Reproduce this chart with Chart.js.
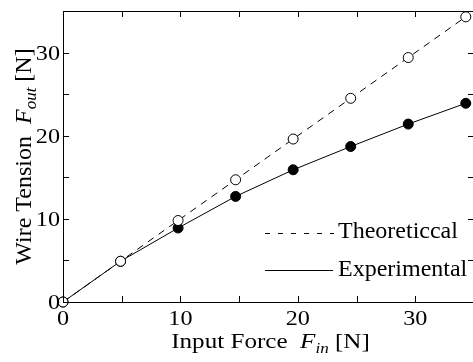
<!DOCTYPE html>
<html lang="en">
<head>
<meta charset="UTF-8">
<script src="https://cdn.jsdelivr.net/npm/chart.js"></script>
<title>Wire Tension</title>
<style>
  body { margin: 0; overflow: hidden; background: #fff; }
</style>
</head>
<body>
<div style="width: 480px; height: 362px;">
  <canvas id="grafico"></canvas>
</div>
<script>
  // values
  const forceIn = [0, 4.9, 9.8, 14.7, 19.6, 24.5, 29.4, 34.3]
  const theoretical = [0, 4.9, 9.8, 14.7, 19.6, 24.5, 29.4, 34.3]
  const experimental = [0, 4.9, 8.9, 12.7, 15.9, 18.7, 21.4, 23.9]
  const majorTicks = [0, 10, 20, 30]
  const minorTicks = [5, 15, 25]
  const legendLabels = ['Theoreticcal', 'Experimental']

  const serif = "'Liberation Serif', 'Times New Roman', serif"
  const pts = ys => forceIn.map((x, i) => ({ x: x, y: ys[i] }))

  // text in pieces: [text, italic, subscript]; sx stretches along the text
  const drawParts = (c, parts, x, base, align, size, sx) => {
    const fonts = parts.map(p => (p[1] ? 'italic ' : '') + Math.round(p[2] ? size * 0.7 : size) + 'px ' + serif)
    let w = 0
    parts.forEach((p, i) => { c.font = fonts[i]; w += c.measureText(p[0]).width })
    c.save()
    c.translate(x, base)
    c.scale(sx, 1)
    let px = align === 'center' ? -w / 2 : align === 'right' ? -w : 0
    parts.forEach((p, i) => {
      c.font = fonts[i]
      c.fillText(p[0], px, p[2] ? size * 0.22 : 0)
      px += c.measureText(p[0]).width
    })
    c.restore()
  }

  // frame with inward ticks on all four sides, tick labels, axis titles and legend
  const frame = {
    id: 'frame',
    afterDraw(chart) {
      const c = chart.ctx, a = chart.chartArea
      const sx = chart.scales.x, sy = chart.scales.y
      c.save()
      c.strokeStyle = '#000'
      c.fillStyle = '#000'
      c.lineWidth = 1
      c.textBaseline = 'alphabetic'
      c.strokeRect(a.left + 0.5, a.top + 0.5, a.right - a.left, a.bottom - a.top)
      c.beginPath()
      majorTicks.concat(minorTicks).forEach(v => {
        const px = Math.round(sx.getPixelForValue(v)) + 0.5
        c.moveTo(px, a.bottom); c.lineTo(px, a.bottom - 6)
        c.moveTo(px, a.top); c.lineTo(px, a.top + 6)
        const py = Math.round(sy.getPixelForValue(v)) + 0.5
        c.moveTo(a.left, py); c.lineTo(a.left + 6, py)
        c.moveTo(a.right, py); c.lineTo(a.right - 6, py)
      })
      c.stroke()

      majorTicks.forEach(v => {
        drawParts(c, [[String(v)]], sx.getPixelForValue(v), a.bottom + 23, 'center', 22, 1.1)
        drawParts(c, [[String(v)]], a.left - 3, sy.getPixelForValue(v) + 7, 'right', 22, 1.1)
      })

      drawParts(c, [['Input Force  '], ['F', true], ['in', true, true], [' [N]']],
        (a.left + a.right) / 2 + 2, 348, 'center', 22, 1.14)
      c.save()
      c.translate(31, (a.top + a.bottom) / 2)
      c.rotate(-Math.PI / 2)
      drawParts(c, [['Wire Tension  '], ['F', true], ['out', true, true], [' [N]']], 0, 0, 'center', 24, 1)
      c.restore()

      // legend
      c.beginPath()
      c.setLineDash([5, 8])
      c.moveTo(265, 233.5); c.lineTo(334, 233.5)
      c.stroke()
      c.setLineDash([])
      c.beginPath()
      c.moveTo(265, 270.5); c.lineTo(333, 270.5)
      c.stroke()
      drawParts(c, [[legendLabels[0]]], 338, 238, 'left', 24, 1)
      drawParts(c, [[legendLabels[1]]], 338, 276, 'left', 24, 1)
      c.restore()
    }
  }

  const grafico = new Chart(document.getElementById('grafico'), {
    type: 'scatter',
    data: {
      datasets: [{
        label: legendLabels[0],
        data: pts(theoretical),
        showLine: true,
        borderColor: '#000',
        borderWidth: 1,
        borderDash: [7, 6],
        pointRadius: 5,
        pointBackgroundColor: '#fff',
        pointBorderColor: '#000',
        pointBorderWidth: 1
      }, {
        label: legendLabels[1],
        data: pts(experimental),
        showLine: true,
        borderColor: '#000',
        borderWidth: 1,
        pointRadius: 5,
        pointBackgroundColor: '#000',
        pointBorderColor: '#000',
        pointBorderWidth: 1
      }]
    },
    options: {
      responsive: true,
      maintainAspectRatio: false,
      animation: false,
      clip: false,
      layout: { padding: { top: 11, right: 4, left: 0, bottom: 0 } },
      plugins: { legend: { display: false }, tooltip: { enabled: false } },
      scales: {
        x: {
          type: 'linear', min: 0, max: 35,
          afterBuildTicks: s => { s.ticks = majorTicks.map(v => ({ value: v })) },
          afterFit: s => { s.height = 60 },
          grid: { display: false, drawTicks: false },
          border: { display: false },
          ticks: { display: false }
        },
        y: {
          type: 'linear', min: 0, max: 35,
          afterBuildTicks: s => { s.ticks = majorTicks.map(v => ({ value: v })) },
          afterFit: s => { s.width = 63 },
          grid: { display: false, drawTicks: false },
          border: { display: false },
          ticks: { display: false }
        }
      }
    },
    plugins: [frame]
  })
</script>
</body>
</html>
